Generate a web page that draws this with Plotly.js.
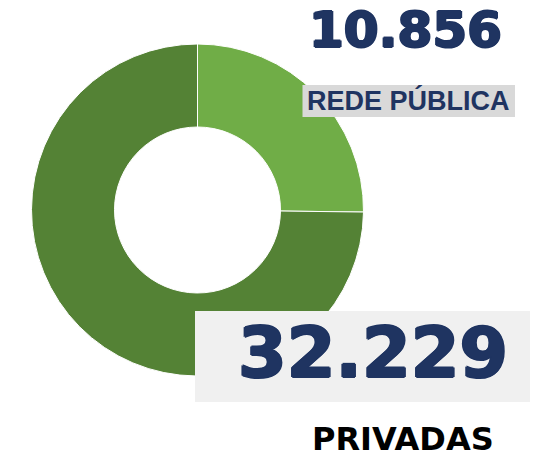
<!DOCTYPE html>
<html>
<head>
<meta charset="utf-8">
<script src="https://cdn.plot.ly/plotly-3.0.1.min.js"></script>
<style>html,body{margin:0;padding:0;background:#fff;}#chart{width:543px;height:457px;}</style>
</head>
<body>
<div id="chart"></div>
<script>
const categories = ["REDE PÚBLICA", "PRIVADAS"];
const values = [10856, 32229];
const valueLabels = ["10.856", "32.229"];
const colors = ["#70AD47", "#548235"];

const W = 543, H = 457;
const px = x => x / W;
const py = y => 1 - y / H;

const navy = "#1F3461";
const thick = c => `1.2px 0 0 ${c}, -1.2px 0 0 ${c}, 0 1.2px 0 ${c}, 0 -1.2px 0 ${c}`;

const trace = {
  type: "pie",
  labels: categories,
  values: values,
  hole: 0.5,
  sort: false,
  direction: "clockwise",
  rotation: 0,
  marker: {colors: colors, line: {color: "#ffffff", width: 1}},
  textinfo: "none",
  hoverinfo: "none",
  showlegend: false,
  domain: {x: [px(31.5), px(363.5)], y: [py(376), py(44)]}
};

const layout = {
  width: W, height: H,
  margin: {l: 0, r: 0, t: 0, b: 0},
  paper_bgcolor: "#ffffff",
  shapes: [
    {type: "rect", xref: "paper", yref: "paper", x0: px(302.5), x1: px(515), y0: py(117), y1: py(85),
     fillcolor: "#D9D9D9", line: {width: 0}},
    {type: "rect", xref: "paper", yref: "paper", x0: px(195), x1: px(530), y0: py(402), y1: py(311),
     fillcolor: "#F0F0F0", line: {width: 0}}
  ],
  annotations: [
    {text: "<b>" + valueLabels[0] + "</b>", xref: "paper", yref: "paper", x: px(405.7), y: py(30),
     xanchor: "center", yanchor: "middle", showarrow: false,
     font: {family: "DejaVu Sans", size: 50, color: navy, shadow: thick(navy)}},
    {text: "<b>" + categories[0] + "</b>", xref: "paper", yref: "paper", x: px(408), y: py(100),
     xanchor: "center", yanchor: "middle", showarrow: false,
     font: {family: "Liberation Sans, Arial", size: 27, color: navy}},
    {text: "<b>" + valueLabels[1] + "</b>", xref: "paper", yref: "paper", x: px(372.8), y: py(352.5),
     xanchor: "center", yanchor: "middle", showarrow: false,
     font: {family: "DejaVu Sans", size: 70, color: navy, shadow: thick(navy)}},
    {text: "<b>" + categories[1] + "</b>", xref: "paper", yref: "paper", x: px(402.5), y: py(439),
     xanchor: "center", yanchor: "middle", showarrow: false,
     font: {family: "DejaVu Sans", size: 32, color: "#000000"}}
  ]
};

Plotly.newPlot("chart", [trace], layout, {displayModeBar: false, staticPlot: true});
</script>
</body>
</html>
